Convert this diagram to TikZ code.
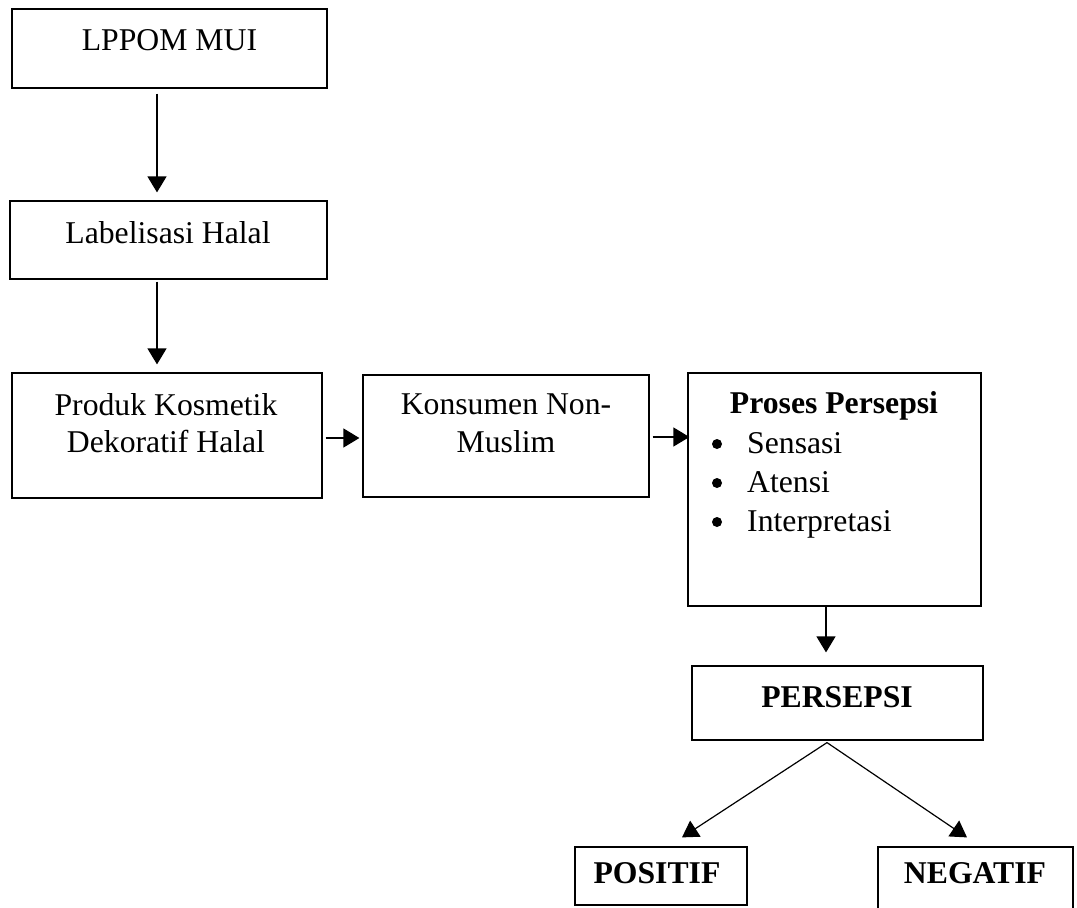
\documentclass[tikz,border=0pt]{standalone}
\usepackage{fontspec}
\setmainfont{Liberation Serif}
\usetikzlibrary{arrows.meta,calc}
\tikzset{
  box/.style={draw, rectangle, line width=1.2pt, inner sep=0pt},
  txt/.style={anchor=base, inner sep=0pt, font=\fontsize{31.7}{38}\selectfont},
  btxt/.style={txt, font=\fontsize{31.7}{38}\selectfont\bfseries},
  bul/.style={circle, fill, inner sep=0pt, minimum size=10pt},
  arr/.style={line width=1.2pt, -{Triangle[length=16pt,width=19pt]}},
}
\begin{document}
\begin{tikzpicture}[x=1pt,y=-1pt]
\useasboundingbox (0,0) rectangle (1077,908);
\clip (0,0) rectangle (1077,908);
% boxes
\node[box, minimum width=315pt, minimum height=79pt] (lppom) at (169.5,48.5) {};
\node[box, minimum width=317pt, minimum height=78pt] (lab) at (168.5,240) {};
\node[box, minimum width=310pt, minimum height=125pt] (prod) at (167,435.5) {};
\node[box, minimum width=286pt, minimum height=122pt] (kon) at (506,436) {};
\node[box, minimum width=293pt, minimum height=233pt] (pro) at (834.5,489.5) {};
\node[box, minimum width=291pt, minimum height=74pt] (per) at (837.5,703) {};
\node[box, minimum width=172pt, minimum height=58pt] (pos) at (661,876) {};
\node[box, minimum width=195pt, minimum height=68pt] (neg) at (975.5,881) {};
% texts
\node[txt] (t1) at (169.5,50) {LPPOM MUI};
\node[txt] (t2) at (168,243) {Labelisasi Halal};
\node[txt] (t3a) at (166,415) {Produk Kosmetik};
\node[txt] (t3b) at (166,452) {Dekoratif Halal};
\node[txt] (t4a) at (506,414) {Konsumen Non-};
\node[txt] (t4b) at (506,452) {Muslim};
\node[btxt] (t5) at (834,413) {Proses Persepsi};
\node[bul] (b1) at (717,444) {};
\node[bul] (b2) at (717,483) {};
\node[bul] (b3) at (717,522) {};
\node[txt, anchor=base west] (s1) at (747,453) {Sensasi};
\node[txt, anchor=base west] (s2) at (747,492) {Atensi};
\node[txt, anchor=base west] (s3) at (747,531) {Interpretasi};
\node[btxt] (t6) at (837,707) {PERSEPSI};
\node[btxt] (t7) at (657,883) {POSITIF};
\node[btxt] (t8) at (975,883) {NEGATIF};
% connectors
\draw[arr] ([xshift=-12.5pt,yshift=-5pt]lppom.south) -- ([xshift=-11.5pt,yshift=8pt]lab.north);
\draw[arr] ([xshift=-11.5pt,yshift=-2pt]lab.south) -- ([xshift=-10pt,yshift=8pt]prod.north);
\draw[arr] ([xshift=3pt,yshift=-2.5pt]prod.east) -- ([xshift=-3pt,yshift=-2pt]kon.west);
\draw[arr] ([xshift=3pt,yshift=-1pt]kon.east) -- ([xshift=2pt,yshift=-1pt]kon.east -| pro.west);
\draw[arr] ([xshift=-8.5pt]pro.south) -- ([xshift=-11.5pt,yshift=13pt]per.north);
\draw[arr] ([xshift=-10.5pt,yshift=-2pt]per.south) -- ([xshift=21pt,yshift=9pt]pos.north);
\draw[arr] ([xshift=-10.5pt,yshift=-2pt]per.south) -- ([xshift=-8.5pt,yshift=9pt]neg.north);
\end{tikzpicture}
\end{document}
